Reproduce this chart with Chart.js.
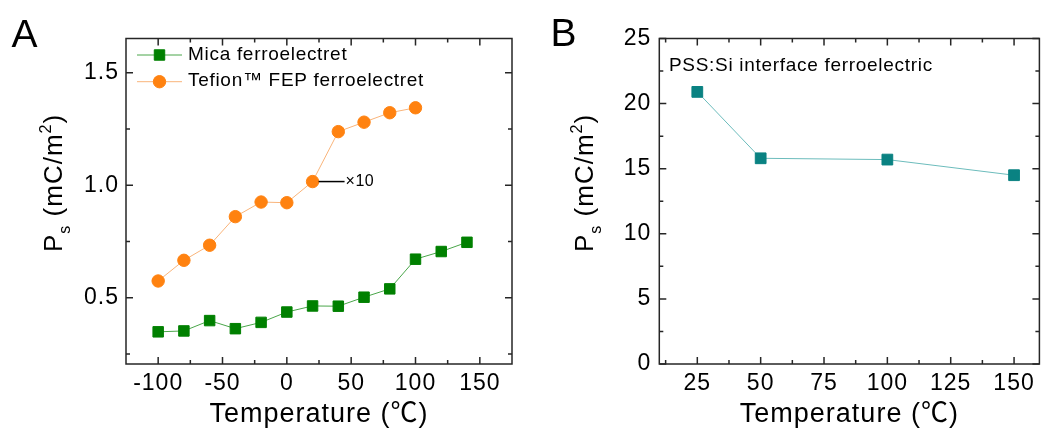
<!DOCTYPE html>
<html><head><meta charset="utf-8">
<script src="https://cdn.jsdelivr.net/npm/chart.js@4.4.1/dist/chart.umd.min.js"></script>
<style>
html,body{margin:0;padding:0;background:#fff;}
body{width:1048px;height:435px;overflow:hidden;position:relative;}
#ca{position:absolute;left:0;top:0;}
#cb{position:absolute;left:530px;top:0;}
</style></head>
<body>
<canvas id="ca" width="530" height="435"></canvas>
<canvas id="cb" width="518" height="435"></canvas>
<script>
// ---- data ----
const micaTemps = [-100, -80, -60, -40, -20, 0, 20, 40, 60, 80, 100, 120, 140];
const micaPs    = [0.348, 0.352, 0.398, 0.362, 0.390, 0.436, 0.463, 0.462, 0.502, 0.539, 0.671, 0.705, 0.746];
const fepTemps  = [-100, -80, -60, -40, -20, 0, 20, 40, 60, 80, 100];
const fepPs     = [0.574, 0.666, 0.733, 0.860, 0.925, 0.922, 1.016, 1.238, 1.280, 1.322, 1.344];
const pssTemps  = [25, 50, 100, 150];
const pssPs     = [20.9, 15.8, 15.7, 14.5];

const aXTicks = [-100, -50, 0, 50, 100, 150];
const aXTickLabels = ['-100', '-50', '0', '50', '100', '150'];
const aXMinor = [-75, -25, 25, 75, 125];
const aYTicks = [0.5, 1.0, 1.5];
const aYTickLabels = ['0.5', '1.0', '1.5'];
const aYMinor = [0.25, 0.75, 1.25];
const bXTicks = [25, 50, 75, 100, 125, 150];
const bXTickLabels = ['25', '50', '75', '100', '125', '150'];
const bXMinor = [12.5, 37.5, 62.5, 87.5, 112.5, 137.5];
const bYTicks = [0, 5, 10, 15, 20, 25];
const bYTickLabels = ['0', '5', '10', '15', '20', '25'];
const bYMinor = [2.5, 7.5, 12.5, 17.5, 22.5];

const micaLabel = 'Mica ferroelectret';
const fepLabel = 'Tefion\u2122 FEP ferroelectret';
const pssLabel = 'PSS:Si interface ferroelectric';
const xTitle = 'Temperature (\u2103)';

const FONT = "'Liberation Sans', Arial, 'Noto Sans CJK SC', sans-serif";
const AXIS = '#262626';
const C_MICA = '#008000', C_MICA_LINE = '#4aa64a';
const C_FEP = '#ff8210', C_FEP_LINE = '#f9b47a';
const C_PSS = '#0a8282', C_PSS_LINE = '#6cbcbc';

function tickSetter(vals) {
  return (scale) => { scale.ticks = vals.map(v => ({ value: v })); };
}
function labeler(vals, labels) {
  return (value) => { const i = vals.indexOf(value); return i >= 0 ? labels[i] : ''; };
}

function framePlugin(xMaj, xMin, yMaj, yMin) {
  return {
    id: 'frame',
    beforeDraw(chart) { chart.ctx.letterSpacing = '1px'; },
    beforeDatasetsDraw(chart) {
      const { ctx, chartArea: a, scales: { x, y } } = chart;
      ctx.save();
      ctx.strokeStyle = AXIS; ctx.lineWidth = 1.5;
      ctx.strokeRect(a.left, a.top, a.right - a.left, a.bottom - a.top);
      ctx.beginPath();
      const tk = (arr, len, isX) => arr.forEach(v => {
        if (isX) {
          const p = x.getPixelForValue(v);
          ctx.moveTo(p, a.bottom); ctx.lineTo(p, a.bottom - len);
          ctx.moveTo(p, a.top); ctx.lineTo(p, a.top + len);
        } else {
          const p = y.getPixelForValue(v);
          ctx.moveTo(a.left, p); ctx.lineTo(a.left + len, p);
          ctx.moveTo(a.right, p); ctx.lineTo(a.right - len, p);
        }
      });
      tk(xMaj, 7, true); tk(xMin, 4, true); tk(yMaj, 7, false); tk(yMin, 4, false);
      ctx.stroke();
      ctx.restore();
    }
  };
}

function drawPsTitle(ctx, xBase, yStart, size) {
  ctx.save();
  ctx.translate(xBase, yStart);
  ctx.rotate(-Math.PI / 2);
  ctx.fillStyle = '#000';
  ctx.textAlign = 'left';
  ctx.textBaseline = 'alphabetic';
  ctx.letterSpacing = '1px';
  let cx = 0;
  const part = (t, s, dy) => {
    ctx.font = s + 'px ' + FONT;
    ctx.fillText(t, cx, dy);
    cx += ctx.measureText(t).width;
  };
  part('P', size, 0);
  part('s', size * 0.62, size * 0.3);
  part(' (mC/m', size, 0);
  part('2', size * 0.62, -size * 0.42);
  part(')', size, 0);
  ctx.restore();
}

function drawMarker(ctx, style, x, y, r, color) {
  ctx.save();
  ctx.fillStyle = color; ctx.strokeStyle = color; ctx.lineWidth = 1;
  ctx.beginPath();
  if (style === 'rect') {
    const s = r * Math.SQRT1_2;
    ctx.rect(x - s, y - s, 2 * s, 2 * s);
  } else {
    ctx.arc(x, y, r, 0, Math.PI * 2);
  }
  ctx.fill(); ctx.stroke();
  ctx.restore();
}

function letter(ctx, t, x, y) {
  ctx.save();
  ctx.font = '39px ' + FONT;
  ctx.letterSpacing = '0px';
  ctx.fillStyle = '#000';
  ctx.textBaseline = 'alphabetic';
  ctx.textAlign = 'left';
  ctx.fillText(t, x, y);
  ctx.restore();
}

const overlayA = {
  id: 'overlayA',
  afterDraw(chart) {
    const ctx = chart.ctx;
    letter(ctx, 'A', 11.5, 46.5);
    drawPsTitle(ctx, 62, 252, 26);
    // legend
    const ds = chart.data.datasets;
    const rows = [[ds[0], 55], [ds[1], 81.7]];
    rows.forEach(([d, y]) => {
      ctx.save();
      ctx.strokeStyle = d.borderColor; ctx.lineWidth = 1;
      ctx.beginPath(); ctx.moveTo(137, y); ctx.lineTo(182, y); ctx.stroke();
      ctx.restore();
      drawMarker(ctx, d.pointStyle, 159.5, y, d.pointRadius, d.pointBackgroundColor);
      ctx.save();
      ctx.font = '19px ' + FONT;
      ctx.letterSpacing = '0.7px';
      ctx.fillStyle = '#000';
      ctx.textBaseline = 'middle';
      ctx.textAlign = 'left';
      ctx.fillText(d.label, 188, y - 0.5);
      ctx.restore();
    });
    // x10 annotation on the 20 degC FEP point
    const xs = chart.scales.x, ys = chart.scales.y;
    const i = fepTemps.indexOf(20);
    const px = xs.getPixelForValue(fepTemps[i]), py = ys.getPixelForValue(fepPs[i]);
    ctx.save();
    ctx.strokeStyle = '#000'; ctx.lineWidth = 1.5;
    ctx.beginPath(); ctx.moveTo(px + 6, py); ctx.lineTo(px + 32, py); ctx.stroke();
    ctx.font = '16px ' + FONT;
    ctx.letterSpacing = '0.5px';
    ctx.fillStyle = '#000';
    ctx.textBaseline = 'middle';
    ctx.textAlign = 'left';
    ctx.fillText('\u00d710', px + 33, py + 0.5);
    ctx.restore();
  }
};

const overlayB = {
  id: 'overlayB',
  afterDraw(chart) {
    const ctx = chart.ctx;
    letter(ctx, 'B', 20.5, 45.5);
    drawPsTitle(ctx, 63, 252, 26);
    ctx.save();
    ctx.font = '19px ' + FONT;
    ctx.letterSpacing = '0.7px';
    ctx.fillStyle = '#000';
    ctx.textBaseline = 'middle';
    ctx.textAlign = 'left';
    ctx.fillText(chart.data.datasets[0].label, 139, 65.5);
    ctx.restore();
  }
};

function xScale(min, max, ticks, labels) {
  return {
    type: 'linear', min, max,
    afterBuildTicks: tickSetter(ticks),
    afterFit: (s) => { s.height = 71; },
    grid: { display: false, drawTicks: false },
    border: { display: false },
    ticks: { autoSkip: false, maxRotation: 0, padding: 6, color: '#000',
      font: { family: FONT, size: 23 }, callback: labeler(ticks, labels) },
    title: { display: true, text: xTitle, color: '#000',
      font: { family: FONT, size: 27 }, padding: { top: 0, bottom: 4.5 } }
  };
}
function yScale(min, max, ticks, labels, width, pad) {
  return {
    type: 'linear', min, max,
    afterBuildTicks: tickSetter(ticks),
    afterFit: (s) => { s.width = width; },
    grid: { display: false, drawTicks: false },
    border: { display: false },
    ticks: { autoSkip: false, padding: pad, color: '#000',
      font: { family: FONT, size: 23 }, callback: labeler(ticks, labels) },
    title: { display: false }
  };
}

const common = {
  responsive: false, animation: false, devicePixelRatio: 1,
  plugins: { legend: { display: false }, tooltip: { enabled: false } },
  elements: { line: { tension: 0 } }
};

new Chart(document.getElementById('ca'), {
  type: 'line',
  data: {
    datasets: [
      { label: micaLabel, data: micaTemps.map((t, i) => ({ x: t, y: micaPs[i] })),
        borderColor: C_MICA_LINE, borderWidth: 1, pointStyle: 'rect', pointRadius: 7.4,
        pointBackgroundColor: C_MICA, pointBorderColor: C_MICA, pointBorderWidth: 1 },
      { label: fepLabel, data: fepTemps.map((t, i) => ({ x: t, y: fepPs[i] })),
        borderColor: C_FEP_LINE, borderWidth: 1, pointStyle: 'circle', pointRadius: 6.2,
        pointBackgroundColor: C_FEP, pointBorderColor: C_FEP, pointBorderWidth: 1 }
    ]
  },
  options: Object.assign({}, common, {
    layout: { padding: { top: 38.5, right: 18, bottom: 0, left: 0 } },
    scales: {
      x: xScale(-125, 175, aXTicks, aXTickLabels),
      y: yScale(0.205, 1.652, aYTicks, aYTickLabels, 126, 7)
    }
  }),
  plugins: [framePlugin(aXTicks, aXMinor, aYTicks, aYMinor), overlayA]
});

new Chart(document.getElementById('cb'), {
  type: 'line',
  data: {
    datasets: [
      { label: pssLabel, data: pssTemps.map((t, i) => ({ x: t, y: pssPs[i] })),
        borderColor: C_PSS_LINE, borderWidth: 1, pointStyle: 'rect', pointRadius: 7.6,
        pointBackgroundColor: C_PSS, pointBorderColor: C_PSS, pointBorderWidth: 1 }
    ]
  },
  options: Object.assign({}, common, {
    layout: { padding: { top: 38.5, right: 1.3, bottom: 0, left: 0 } },
    scales: {
      x: xScale(10, 160, bXTicks, bXTickLabels),
      y: yScale(0, 25, bYTicks, bYTickLabels, 129.3, 8)
    }
  }),
  plugins: [framePlugin(bXTicks, bXMinor, bYTicks, bYMinor), overlayB]
});
</script>
</body></html>
